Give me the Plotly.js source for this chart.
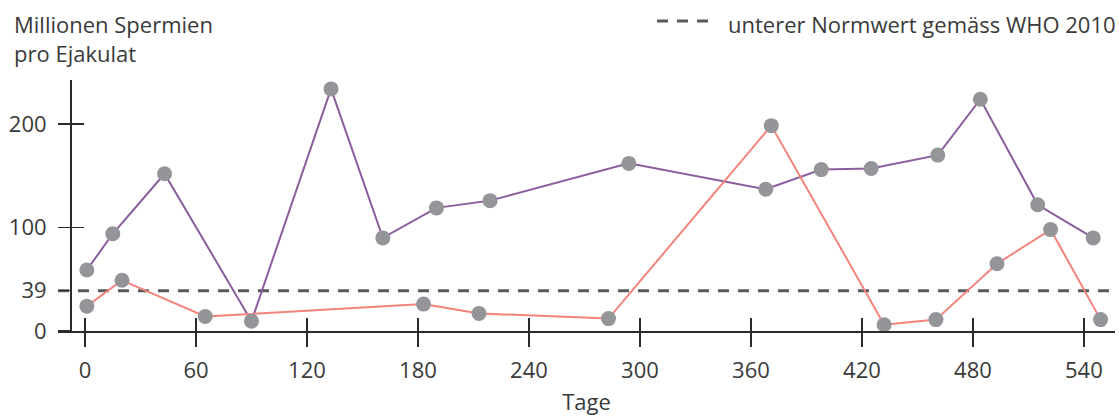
<!DOCTYPE html>
<html>
<head>
<meta charset="utf-8">
<script src="https://cdn.plot.ly/plotly-3.0.1.min.js"></script>
<style>html,body{margin:0;padding:0;background:#fff;}#chart{width:1119px;height:416px;}</style>
</head>
<body>
<div id="chart"></div>
<script>
// ---- data ----
const daysPurple   = [1, 15, 43, 90, 133, 161, 190, 219, 294, 368, 398, 425, 461, 484, 515, 545];
const valuesPurple = [59, 94, 152, 9.5, 234, 90, 119, 126, 162, 137, 156, 157, 170, 224, 122, 90];
const daysRed      = [1, 20, 65, 183, 213, 283, 371, 432, 460, 493, 522, 549];
const valuesRed    = [24, 49, 14, 26, 17, 12, 198.5, 6, 11, 65, 98, 11];
const whoNorm = 39;
const xTicks = [0, 60, 120, 180, 240, 300, 360, 420, 480, 540];
const yTicks = [0, 39, 100, 200];
const yTitle = 'Millionen Spermien<br>pro Ejakulat';
const xTitle = 'Tage';
const legendText = 'unterer Normwert gemäss WHO 2010';

const FONT = 'Open Sans, Noto Sans, sans-serif';
const FS = 22;
const TXT = '#3a3a3a';
const AX = '#2b2b2b';
const xRange = [-14.6, 556.8];
const yRange = [0, 242.6];

const lineTrace = (x, y, color) => ({
  x, y, type: 'scatter', mode: 'lines', line: {color, width: 2},
  hoverinfo: 'skip', showlegend: false, cliponaxis: false
});
const markerTrace = (x, y) => ({
  x, y, type: 'scatter', mode: 'markers',
  marker: {color: '#939598', size: 15, line: {width: 0}},
  showlegend: false, cliponaxis: false
});

const data = [
  lineTrace(daysPurple, valuesPurple, '#8a5d9c'),
  lineTrace(daysRed, valuesRed, '#f4837a'),
  markerTrace(daysPurple, valuesPurple),
  markerTrace(daysRed, valuesRed),
  {x: [null], y: [null], xaxis: 'x2', yaxis: 'y2', type: 'scatter', mode: 'markers', showlegend: false, hoverinfo: 'skip'}
];

const yPos = 12 / 1057;

const layout = {
  width: 1119, height: 416,
  margin: {l: 58, r: 4, t: 80, b: 85},
  paper_bgcolor: '#fff', plot_bgcolor: '#fff',
  font: {family: FONT, size: FS, color: TXT},
  showlegend: false,
  xaxis: {
    range: xRange, tickvals: xTicks, ticktext: xTicks.map(String),
    ticks: 'outside', ticklen: 14, tickwidth: 1.3, tickcolor: AX,
    showline: true, linecolor: AX, linewidth: 1.5,
    showgrid: false, zeroline: false,
    tickfont: {family: FONT, size: FS, color: TXT},
    ticklabelstandoff: 5,
    title: {text: xTitle, font: {family: FONT, size: FS, color: TXT}, standoff: 16}
  },
  xaxis2: {
    range: xRange, overlaying: 'x', anchor: 'y', tickvals: xTicks,
    ticks: 'inside', ticklen: 13, tickwidth: 1.3, tickcolor: AX,
    showticklabels: false, showline: false, showgrid: false, zeroline: false
  },
  yaxis: {
    range: yRange, tickvals: yTicks, ticktext: yTicks.map(String),
    anchor: 'free', position: yPos,
    ticks: 'outside', ticklen: 12, tickwidth: 1.3, tickcolor: AX,
    showline: true, linecolor: AX, linewidth: 1.5,
    showgrid: false, zeroline: false,
    tickfont: {family: FONT, size: FS, color: TXT},
    ticklabelstandoff: 7
  },
  yaxis2: {
    range: yRange, overlaying: 'y', anchor: 'free', position: yPos, tickvals: yTicks.filter(v => v !== whoNorm && v !== 0),
    ticks: 'inside', ticklen: 13, tickwidth: 1.3, tickcolor: AX,
    showticklabels: false, showline: false, showgrid: false, zeroline: false
  },
  shapes: [
    {type: 'line', xref: 'paper', x0: 0, x1: 1, yref: 'y', y0: whoNorm, y1: whoNorm,
     line: {color: '#58595b', width: 3, dash: '11px,9px'}, layer: 'below'},
    {type: 'line', xref: 'paper', x0: (657 - 58) / 1057, x1: (716 - 58) / 1057, yref: 'paper',
     y0: (331 - 21) / 251, y1: (331 - 21) / 251,
     line: {color: '#58595b', width: 3, dash: '11px,9px'}}
  ],
  annotations: [
    {text: yTitle, xref: 'paper', yref: 'paper', x: (12 - 58) / 1057, y: (331 - 7) / 251,
     xanchor: 'left', yanchor: 'top', align: 'left', showarrow: false,
     font: {family: FONT, size: FS, color: TXT}},
    {text: legendText, xref: 'paper', yref: 'paper', x: (726 - 58) / 1057, y: (331 - 24) / 251,
     xanchor: 'left', yanchor: 'middle', align: 'left', showarrow: false,
     font: {family: FONT, size: FS, color: TXT}}
  ]
};

Plotly.newPlot('chart', data, layout, {displayModeBar: false, staticPlot: true});
</script>
</body>
</html>
